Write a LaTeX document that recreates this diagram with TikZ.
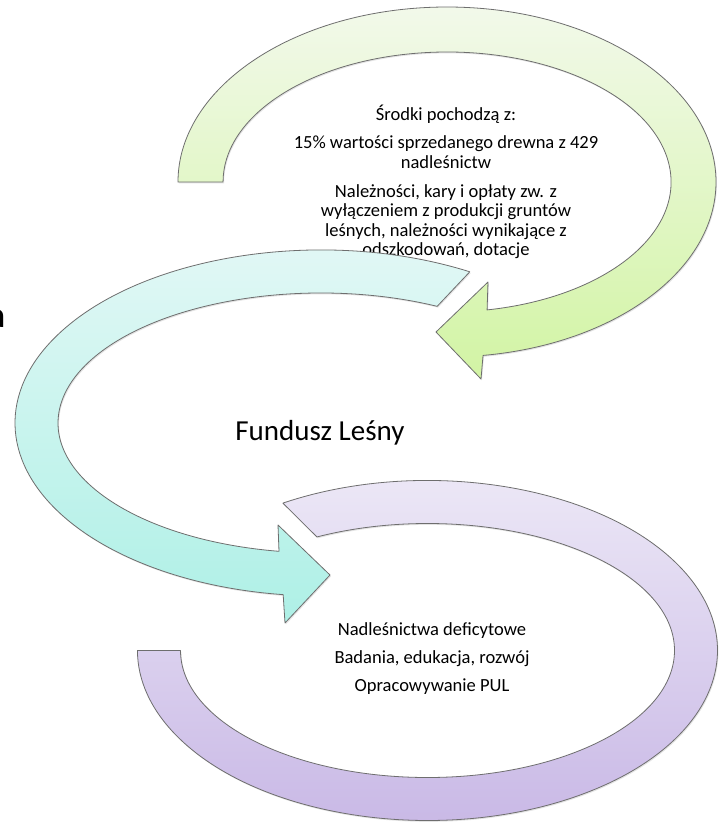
\documentclass[tikz,border=0pt]{standalone}
\usepackage{fontspec}
\setmainfont{Carlito}
\usetikzlibrary{shadows}
\definecolor{ringline}{HTML}{6E6E6E}
\definecolor{gtop}{HTML}{F2F9EA}
\definecolor{gbot}{HTML}{D2F4A4}
\definecolor{ttop}{HTML}{E4F8F6}
\definecolor{tbot}{HTML}{AEF0E6}
\definecolor{ptop}{HTML}{EEEAF7}
\definecolor{pbot}{HTML}{C7B6E5}
\begin{document}
\begin{tikzpicture}[x=0.75pt,y=0.75pt,
  ring/.style={draw=ringline, line width=0.6pt, line join=round,
    drop shadow={opacity=0.22, shadow xshift=0.7pt, shadow yshift=-1pt}},
  txt/.style={align=center, inner sep=0pt, font=\fontsize{13.9}{14.6}\selectfont, text=black},
  bigtxt/.style={inner sep=0pt, font=\fontsize{21.75}{26}\selectfont, text=black}]
\useasboundingbox[fill=white] (0,0) rectangle (720,-826);
% green arrow
\path[ring, top color=gtop, bottom color=gbot]
  (178,-182) arc[start angle=180, end angle=-82.3, x radius=269, y radius=175]
  -- (481,-379) -- (436,-332) -- (488,-282) -- (487.1,-309.9)
  arc[start angle=-79.7, end angle=180, x radius=224, y radius=130] -- cycle;
\node[txt] (srodki) at (446,-182) {Środki pochodzą z:\\[6.5pt]
  15\% wartości sprzedanego drewna z 429\\ nadleśnictw\\[7pt]
  Należności, kary i opłaty zw. z\\ wyłączeniem z produkcji gruntów\\
  leśnych, należności wynikające z\\ odszkodowań, dotacje};
% teal arrow
\path[ring, top color=ttop, bottom color=tbot]
  (469.8,-271.8) arc[start angle=60.9, end angle=262.9, x radius=306, y radius=173]
  -- (285,-623) -- (330,-575) -- (278,-525) -- (279,-551.3)
  arc[start angle=260.8, end angle=63.8, x radius=263, y radius=130] -- cycle;
\node[bigtxt] (fundusz) at (320,-433) {Fundusz Leśny};
% purple arc
\path[ring, top color=ptop, bottom color=pbot]
  (282.9,-503.1) arc[start angle=119.9, end angle=-180, x radius=290, y radius=170]
  -- (180.5,-650.5)
  arc[start angle=-180, end angle=116.6, x radius=247, y radius=127] -- cycle;
\node[txt] (cele) at (432,-659) {Nadleśnictwa deficytowe\\[6.4pt]
  Badania, edukacja, rozwój\\[6.4pt] Opracowywanie PUL};
% stray letter at the left edge
\node[anchor=base east, inner sep=0pt, font=\fontsize{27}{30}\selectfont\bfseries, text=black] (aletter) at (5.5,-327) {a};
\end{tikzpicture}
\end{document}
